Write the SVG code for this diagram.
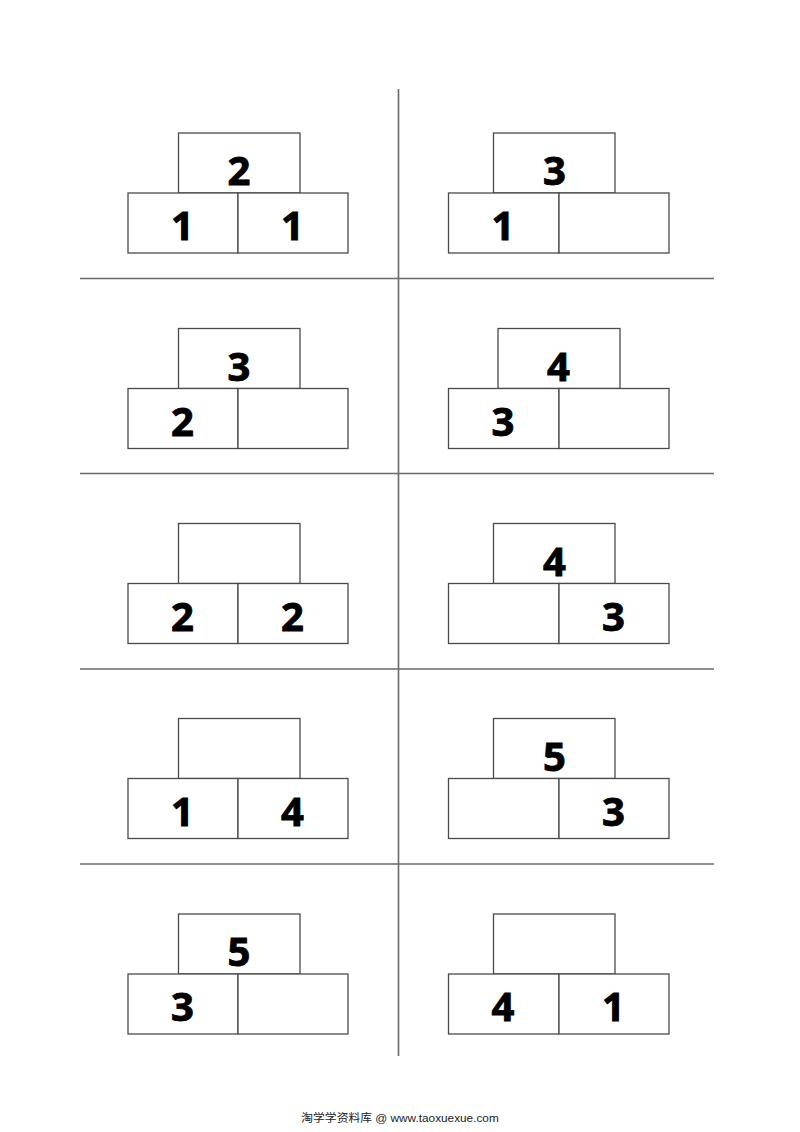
<svg xmlns="http://www.w3.org/2000/svg" width="800" height="1132" viewBox="0 0 800 1132">
<style>
.grid{stroke:#6a6a6a;stroke-width:1.6;fill:none}
.box{fill:#fff;stroke:#4a4a4a;stroke-width:1.3}
.num{font-family:"Open Sans","Liberation Sans",sans-serif;font-weight:bold;font-size:40px;fill:#000;stroke:#000;stroke-width:0.9;text-anchor:middle}
.foot{font-family:"Liberation Sans","Noto Sans CJK SC",sans-serif;font-size:11.8px;fill:#222;text-anchor:middle}
</style>
<rect width="800" height="1132" fill="#fff"/>
<g id="connectors">
<line class="grid" x1="398.5" y1="89" x2="398.5" y2="1056"/>
<line class="grid" x1="80" y1="278.5" x2="714" y2="278.5"/>
<line class="grid" x1="80" y1="473.5" x2="714" y2="473.5"/>
<line class="grid" x1="80" y1="669" x2="714" y2="669"/>
<line class="grid" x1="80" y1="864" x2="714" y2="864"/>
</g>
<g id="cell-1">
<rect class="box" x="178.5" y="133" width="121.5" height="60"/>
<rect class="box" x="128" y="193" width="110" height="60"/>
<rect class="box" x="238" y="193" width="110" height="60"/>
<text class="num" x="239" y="185">2</text>
<text class="num" x="182.5" y="240">1</text>
<text class="num" x="292.5" y="240">1</text>
</g>
<g id="cell-2">
<rect class="box" x="493.5" y="133" width="121.5" height="60"/>
<rect class="box" x="448.5" y="193" width="110.5" height="60"/>
<rect class="box" x="559" y="193" width="110" height="60"/>
<text class="num" x="554.5" y="185">3</text>
<text class="num" x="503" y="240">1</text>
</g>
<g id="cell-3">
<rect class="box" x="178.5" y="328.5" width="121.5" height="60"/>
<rect class="box" x="128" y="388.5" width="110" height="60"/>
<rect class="box" x="238" y="388.5" width="110" height="60"/>
<text class="num" x="239" y="380.5">3</text>
<text class="num" x="182.5" y="435.5">2</text>
</g>
<g id="cell-4">
<rect class="box" x="498" y="328.5" width="122" height="60"/>
<rect class="box" x="448.5" y="388.5" width="110.5" height="60"/>
<rect class="box" x="559" y="388.5" width="110" height="60"/>
<text class="num" x="558.5" y="380.5">4</text>
<text class="num" x="503" y="435.5">3</text>
</g>
<g id="cell-5">
<rect class="box" x="178.5" y="523.5" width="121.5" height="60"/>
<rect class="box" x="128" y="583.5" width="110" height="60"/>
<rect class="box" x="238" y="583.5" width="110" height="60"/>
<text class="num" x="182.5" y="630.5">2</text>
<text class="num" x="292.5" y="630.5">2</text>
</g>
<g id="cell-6">
<rect class="box" x="493.5" y="523.5" width="121.5" height="60"/>
<rect class="box" x="448.5" y="583.5" width="110.5" height="60"/>
<rect class="box" x="559" y="583.5" width="110" height="60"/>
<text class="num" x="554.5" y="575.5">4</text>
<text class="num" x="613.5" y="630.5">3</text>
</g>
<g id="cell-7">
<rect class="box" x="178.5" y="718.5" width="121.5" height="60"/>
<rect class="box" x="128" y="778.5" width="110" height="60"/>
<rect class="box" x="238" y="778.5" width="110" height="60"/>
<text class="num" x="182.5" y="825.5">1</text>
<text class="num" x="292.5" y="825.5">4</text>
</g>
<g id="cell-8">
<rect class="box" x="493.5" y="718.5" width="121.5" height="60"/>
<rect class="box" x="448.5" y="778.5" width="110.5" height="60"/>
<rect class="box" x="559" y="778.5" width="110" height="60"/>
<text class="num" x="554.5" y="770.5">5</text>
<text class="num" x="613.5" y="825.5">3</text>
</g>
<g id="cell-9">
<rect class="box" x="178.5" y="914" width="121.5" height="60"/>
<rect class="box" x="128" y="974" width="110" height="60"/>
<rect class="box" x="238" y="974" width="110" height="60"/>
<text class="num" x="239" y="966">5</text>
<text class="num" x="182.5" y="1021">3</text>
</g>
<g id="cell-10">
<rect class="box" x="493.5" y="914" width="121.5" height="60"/>
<rect class="box" x="448.5" y="974" width="110.5" height="60"/>
<rect class="box" x="559" y="974" width="110" height="60"/>
<text class="num" x="503" y="1021">4</text>
<text class="num" x="613.5" y="1021">1</text>
</g>
<g id="footer">
<text class="foot" x="400" y="1122">淘学学资料库 @ www.taoxuexue.com</text>
</g>
</svg>
